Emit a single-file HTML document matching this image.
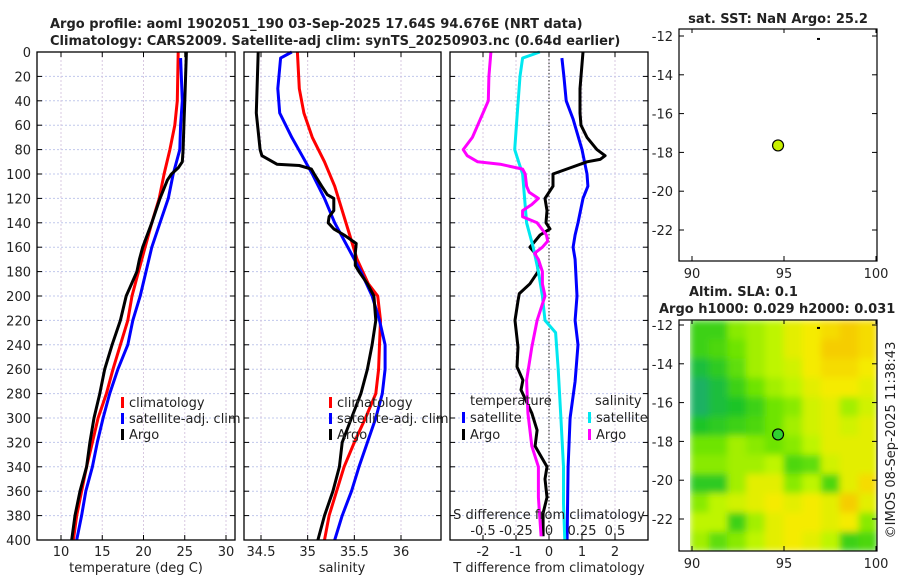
<!DOCTYPE html>
<html><head><meta charset="utf-8"><style>
body{margin:0;background:#fff}
svg{display:block;font-family:"DejaVu Sans","Liberation Sans",sans-serif}
</style></head><body>
<svg id="c" width="900" height="580" viewBox="0 0 900 580"></svg>
<script>
const tDepth=[0,40,60,80,90,95,100,105,120,140,160,170,180,200,220,240,260,280,300,320,340,360,380,400];
const tArgo=[25.2,25.0,24.9,24.8,24.7,24.2,23.4,22.9,22.0,21.0,19.9,19.5,19.2,17.9,17.2,16.2,15.3,14.7,14.0,13.5,13.1,12.3,11.7,11.3];
const tClimDepth=[0,40,60,80,100,120,140,160,180,200,220,240,260,280,300,320,340,360,380,400];
const tClim=[24.2,24.1,23.8,23.2,22.5,21.9,21.0,20.2,19.4,18.6,18.1,17.2,16.3,15.5,14.5,13.8,13.1,12.5,11.9,11.5];
const tSatDepth=[5,40,60,80,100,120,140,160,180,200,220,240,260,280,300,320,340,360,380,400];
const tSat=[24.5,24.7,24.5,24.4,23.6,23.0,22.0,21.0,20.3,19.6,18.7,18.1,16.9,15.9,15.1,14.4,13.8,13.0,12.5,11.9];
const sArgoDepth=[0,50,80,85,92,93,96,100,110,117,120,130,135,140,145,150,157,165,175,180,190,200,220,240,260,280,300,320,340,360,380,400];
const sArgo=[34.47,34.45,34.49,34.51,34.67,34.91,35.04,35.07,35.15,35.21,35.28,35.28,35.23,35.22,35.28,35.39,35.52,35.51,35.51,35.55,35.64,35.71,35.73,35.69,35.64,35.57,35.47,35.37,35.34,35.27,35.18,35.11];
const sSatDepth=[0,5,30,50,70,85,100,120,140,160,180,200,220,240,260,280,300,320,340,360,380,400];
const sSat=[34.83,34.71,34.68,34.70,34.83,34.94,35.05,35.18,35.29,35.43,35.57,35.69,35.77,35.83,35.83,35.80,35.73,35.64,35.55,35.47,35.37,35.29];
const sClimDepth=[0,30,50,70,90,110,130,150,170,190,200,220,240,260,280,300,320,340,360,380,400];
const sClim=[34.89,34.91,34.96,35.05,35.18,35.29,35.37,35.45,35.53,35.65,35.75,35.78,35.77,35.76,35.73,35.62,35.50,35.39,35.31,35.23,35.18];
const dTArgoDepth=[0,30,50,60,70,80,85,88,90,95,100,110,120,130,140,145,150,155,160,165,170,180,190,198,204,220,242,258,269,277,296,310,323,340,350,365,378,397];
const dTArgo=[1.03,0.94,0.94,0.97,1.15,1.45,1.7,1.55,1.15,0.64,0.12,0.12,-0.12,-0.06,-0.09,0.03,-0.27,-0.42,-0.58,-0.42,-0.36,-0.33,-0.58,-0.9,-0.94,-1.03,-0.94,-0.97,-0.79,-0.85,-0.52,-0.36,-0.42,-0.06,-0.12,-0.06,-0.18,-0.18];
const dTSatDepth=[5,20,40,55,80,100,110,120,140,150,160,170,200,220,240,270,300,340,400];
const dTSat=[0.39,0.45,0.52,0.73,1.0,1.15,1.18,1.03,0.88,0.79,0.73,0.79,0.85,0.79,0.88,0.79,0.64,0.58,0.55];
const dSArgoDepth=[0,20,40,50,60,70,80,85,90,92,96,100,110,115,120,125,130,135,140,150,155,160,165,170,180,190,200,220,242,269,296,323,340,365,397];
const dSArgo=[-0.44,-0.455,-0.46,-0.5,-0.54,-0.58,-0.65,-0.62,-0.54,-0.37,-0.2,-0.18,-0.17,-0.15,-0.08,-0.13,-0.2,-0.2,-0.09,-0.02,-0.01,-0.05,-0.11,-0.08,-0.05,-0.05,-0.03,-0.09,-0.13,-0.17,-0.16,-0.13,-0.08,-0.08,-0.06];
const dSSatDepth=[0,5,20,50,80,90,100,140,160,180,200,220,230,260,300,340,370,400];
const dSSat=[-0.07,-0.2,-0.22,-0.24,-0.26,-0.23,-0.2,-0.17,-0.12,-0.08,-0.05,-0.03,0.05,0.07,0.09,0.11,0.11,0.12];
const depthTicks=[0,20,40,60,80,100,120,140,160,180,200,220,240,260,280,300,320,340,360,380,400];
const tTicks=[10,15,20,25,30];
const sTicks=[34.5,35,35.5,36];
const dTTicks=[-2,-1,0,1,2];
const dSTicks=[-0.5,-0.25,0,0.25,0.5];
const dSTickLabels=["-0.5","-0.25","0","0.25","0.5"];
const lonTicks=[90,95,100];
const latTicks=[-12,-14,-16,-18,-20,-22];
const argoLon=94.676, argoLat=-17.64;
const slaGrid=[
[0.3,0.3,0.5,0.55,0.6,0.7,0.75,0.8,0.85,0.8],
[0.3,0.35,0.45,0.55,0.6,0.7,0.75,0.85,0.85,0.8],
[0.15,0.25,0.4,0.55,0.6,0.65,0.75,0.8,0.8,0.75],
[0.05,0.15,0.3,0.45,0.55,0.6,0.7,0.75,0.75,0.7],
[0.05,0.15,0.2,0.3,0.45,0.5,0.65,0.7,0.55,0.65],
[0.2,0.25,0.3,0.35,0.45,0.55,0.65,0.7,0.65,0.7],
[0.45,0.45,0.55,0.5,0.45,0.5,0.6,0.7,0.7,0.7],
[0.5,0.5,0.55,0.55,0.6,0.35,0.4,0.65,0.7,0.7],
[0.25,0.25,0.55,0.7,0.7,0.5,0.6,0.35,0.7,0.8],
[0.5,0.6,0.65,0.7,0.75,0.7,0.75,0.7,0.85,0.7],
[0.6,0.6,0.3,0.55,0.7,0.75,0.75,0.7,0.75,0.5],
[0.55,0.4,0.5,0.6,0.7,0.75,0.7,0.6,0.3,0.35]];

const NS='http://www.w3.org/2000/svg', svg=document.getElementById('c');
function el(tag,attrs,parent){const e=document.createElementNS(NS,tag);for(const k in attrs)e.setAttribute(k,attrs[k]);(parent||svg).appendChild(e);return e;}
function txt(s,x,y,attrs,name){const e=el('text',Object.assign({x:x,y:y,'font-size':13,fill:'#222'},attrs||{}));e.textContent=s;


return e;}
const Y0=52,Y1=540; const yD=d=>Y0+(Y1-Y0)*d/400;
function lin(d0,d1,r0,r1){return v=>r0+(v-d0)*(r1-r0)/(d1-d0);}

function panel(x0,x1,xs,ticks,labels,name){
  const g=el('g',{});
  
  
  el('rect',{x:x0,y:Y0,width:x1-x0,height:Y1-Y0,fill:'#fff'},g);
  depthTicks.forEach(d=>{if(d>0&&d<400)el('line',{x1:x0,x2:x1,y1:yD(d),y2:yD(d),stroke:'#c0c8ec','stroke-width':1,'stroke-dasharray':'2,2'},g);});
  ticks.forEach((t,i)=>{const x=xs(t);el('line',{x1:x,x2:x,y1:Y0,y2:Y1,stroke:'#d8c8e0','stroke-width':1,'stroke-dasharray':'2,2'},g);
    el('line',{x1:x,x2:x,y1:Y1,y2:Y1-5,stroke:'#000'},g);el('line',{x1:x,x2:x,y1:Y0,y2:Y0+5,stroke:'#000'},g);
    txt(labels[i],x,556,{'text-anchor':'middle'},'x-tick-label');});
  depthTicks.forEach(d=>{el('line',{x1:x0,x2:x0+5,y1:yD(d),y2:yD(d),stroke:'#000'},g);el('line',{x1:x1,x2:x1-5,y1:yD(d),y2:yD(d),stroke:'#000'},g);});
  return g;
}
function line(depths,vals,xs,color,name,w){
  const p=depths.map((d,i)=>(i?'L':'M')+xs(vals[i]).toFixed(1)+','+yD(d).toFixed(1)).join('');
  const e=el('path',{d:p,fill:'none',stroke:color,'stroke-width':w||3,'stroke-linejoin':'round'});
  
  
}
function frame(x0,x1){el('rect',{x:x0,y:Y0,width:x1-x0,height:Y1-Y0,fill:'none',stroke:'#000','stroke-width':1.3});}
function legItem(x,y,color,label,name){el('rect',{x:x,y:y-10,width:3,height:11,fill:color});txt(label,x+8,y,{},name);}

txt('Argo profile: aoml 1902051_190 03-Sep-2025 17.64S 94.676E (NRT data)',50,28,{'font-weight':'bold'},'title-line-1');
txt('Climatology: CARS2009. Satellite-adj clim: synTS_20250903.nc (0.64d earlier)',50,45,{'font-weight':'bold'},'title-line-2');

depthTicks.forEach(d=>txt(String(d),31,yD(d)+5,{'text-anchor':'end'},'y-tick-label'));

const xT=lin(10,30,61,226);
panel(37,235,xT,tTicks,tTicks.map(String),'temperature-panel');
line(tClimDepth,tClim,xT,'#f00','temperature-climatology-line');
line(tSatDepth,tSat,xT,'#00f','temperature-satellite-line');
line(tDepth,tArgo,xT,'#000','temperature-argo-line');
frame(37,235);
txt('temperature (deg C)',136,572,{'text-anchor':'middle'},'x-axis-title-temperature');
legItem(121,407,'#f00','climatology','legend-climatology');
legItem(121,423,'#00f','satellite-adj. clim','legend-satellite');
legItem(121,439,'#000','Argo','legend-argo');

const xS=lin(34.5,36,261,401);
panel(244,441,xS,sTicks,['34.5','35','35.5','36'],'salinity-panel');
line(sClimDepth,sClim,xS,'#f00','salinity-climatology-line');
line(sSatDepth,sSat,xS,'#00f','salinity-satellite-line');
line(sArgoDepth,sArgo,xS,'#000','salinity-argo-line');
frame(244,441);
txt('salinity',342,572,{'text-anchor':'middle'},'x-axis-title-salinity');
legItem(329,407,'#f00','climatology','legend-climatology-2');
legItem(329,423,'#00f','satellite-adj. clim','legend-satellite-2');
legItem(329,439,'#000','Argo','legend-argo-2');

const xDT=lin(-2,2,483,615), xDS=lin(-0.5,0.5,483,615);
panel(450,648,xDT,dTTicks,dTTicks.map(String),'difference-panel');
el('line',{x1:549,x2:549,y1:Y0,y2:Y1,stroke:'#444','stroke-width':1.2,'stroke-dasharray':'1.5,2'});
line(dTSatDepth,dTSat,xDT,'#00f','t-diff-satellite-line');
line(dTArgoDepth,dTArgo,xDT,'#000','t-diff-argo-line');
line(dSSatDepth,dSSat,xDS,'#00e8f0','s-diff-satellite-line');
line(dSArgoDepth,dSArgo,xDS,'#f0f','s-diff-argo-line');
frame(450,648);
txt('T difference from climatology',549,572,{'text-anchor':'middle'},'x-axis-title-t-diff');
txt('S difference from climatology',549,519,{'text-anchor':'middle'},'s-diff-axis-title');
dSTicks.forEach((t,i)=>txt(dSTickLabels[i],xDS(t),535,{'text-anchor':'middle'},'s-diff-tick-label'));
txt('temperature',470,405,{},'legend-temperature-header');
legItem(462,422,'#00f','satellite','legend-t-satellite');
legItem(462,439,'#000','Argo','legend-t-argo');
txt('salinity',595,405,{},'legend-salinity-header');
legItem(588,422,'#00e8f0','satellite','legend-s-satellite');
legItem(588,439,'#f0f','Argo','legend-s-argo');

const lonX=lin(90,100,692,876);
function map(top,bottom,lat12y,name,dotColor,heat){
  const latY=lin(-12,-22,lat12y,lat12y+194);
  const g=el('g',{});
  
  
  if(heat){
    const defs=el('defs',{},g);
    const f=el('filter',{id:'bl',x:0,y:0,width:1,height:1},defs);
    el('feGaussianBlur',{stdDeviation:3.5,edgeMode:'duplicate'},f);
    const cp=el('clipPath',{id:'cp'},defs);el('rect',{x:690,y:top,width:187,height:bottom-top},cp);
    const stops=[[0,[24,170,120]],[0.2,[30,196,40]],[0.45,[110,228,0]],[0.6,[190,245,0]],[0.75,[245,235,0]],[0.9,[245,190,0]]];
    const cmap=v=>{for(let i=1;i<stops.length;i++){if(v<=stops[i][0]||i==stops.length-1){const a=stops[i-1],b=stops[i],t=Math.max(0,Math.min(1,(v-a[0])/(b[0]-a[0])));return 'rgb('+a[1].map((c,k)=>Math.round(c+(b[1][k]-c)*t)).join(',')+')';}}};
    const hg=el('g',{'clip-path':'url(#cp)'},g);const hb=el('g',{filter:'url(#bl)'},hg);
    const cw=187/10,ch=(bottom-top)/12;
    slaGrid.forEach((row,r)=>row.forEach((v,c)=>{const cell=el('rect',{x:690+c*cw,y:top+r*ch,width:cw+0.5,height:ch+0.5,fill:cmap(v)},hb);
      
      }));
  }
  el('rect',{x:679,y:top,width:198,height:bottom-top,fill:'none',stroke:'#000','stroke-width':1.2},g);
  latTicks.forEach(l=>{const y=latY(l);el('line',{x1:679,x2:684,y1:y,y2:y,stroke:'#000'},g);el('line',{x1:877,x2:872,y1:y,y2:y,stroke:'#000'},g);
    txt(String(l),673,y+5,{'text-anchor':'end'},'lat-tick-label');});
  lonTicks.forEach(l=>{const x=lonX(l);el('line',{x1:x,x2:x,y1:bottom,y2:bottom-5,stroke:'#000'},g);el('line',{x1:x,x2:x,y1:top,y2:top+4,stroke:'#000'},g);
    txt(String(l),x,bottom+17,{'text-anchor':'middle'},'lon-tick-label');});
  el('rect',{x:817,y:latY(-12.1),width:3,height:2,fill:'#000'},g);
  const dot=el('circle',{cx:lonX(argoLon),cy:latY(argoLat),r:5.5,fill:dotColor,stroke:'#000','stroke-width':1.2},g);
  
  
}
txt('sat. SST: NaN Argo: 25.2',778,23,{'text-anchor':'middle','font-weight':'bold'},'sst-map-title');
map(29,261,36,'sst-map','#c8f000',false);
txt('Altim. SLA: 0.1',689,296,{'font-weight':'bold'},'sla-map-title-1');
txt('Argo h1000: 0.029 h2000: 0.031',659,313,{'font-weight':'bold'},'sla-map-title-2');
map(320,551,325,'sla-map','#30d030',true);
txt('©IMOS 08-Sep-2025 11:38:43',0,0,{'text-anchor':'middle',transform:'translate(895,440) rotate(-90)'},'timestamp-credit');
</script>
</body></html>
